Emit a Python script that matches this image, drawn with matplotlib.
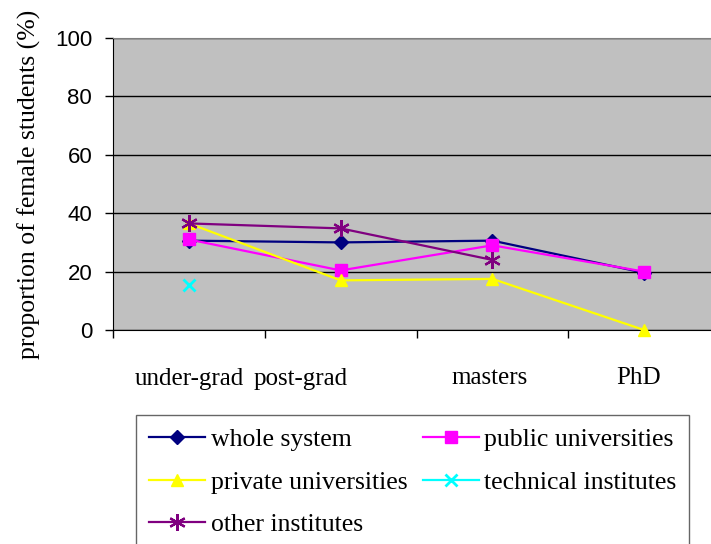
import numpy as np
from matplotlib import pyplot as plt
from matplotlib import transforms


levels = ["under-grad", "post-grad", "masters", "PhD"]

whole_system = [30.6, 30.0, 30.6, 19.6]
public_universities = [31.0, 20.4, 29.0, 20.0]
private_universities = [36.5, 17.0, 17.5, 0.0]
technical_institutes = [15.5, np.nan, np.nan, np.nan]
other_institutes = [36.5, 34.8, 24.0, np.nan]

y_ticks = [0, 20, 40, 60, 80, 100]


def draw_series(ax, x):
	lines = {}
	lines["whole"], = ax.plot(x, whole_system, color="#000080", lw=1.6, marker="D",
		ms=7, label="whole system")
	lines["public"], = ax.plot(x, public_universities, color="#FF00FF", lw=1.6,
		marker="s", ms=8, label="public universities")
	lines["private"], = ax.plot(x, private_universities, color="#FFFF00", lw=1.6,
		marker="^", ms=9, label="private universities")
	lines["technical"], = ax.plot(x, technical_institutes, color="#00FFFF", lw=1.6,
		marker="x", ms=8, mew=2, label="technical institutes")
	lines["other"], = ax.plot(x, other_institutes, color="#800080", lw=1.6,
		marker=(6, 2, 0), ms=12, mew=1.6, label="other institutes")
	# markers at 0 should not be cut by the axis
	for ln in lines.values():
		ln.set_clip_on(False)
		ln.set_zorder(3)
	return lines


def main():
	fig = plt.figure(figsize=(7.11, 5.44), dpi=100)
	ax = fig.add_axes([113 / 711, 1 - 330 / 544, 607 / 711, 292 / 544])
	ax.set_facecolor("#C0C0C0")

	x = np.arange(len(levels)) + 0.5
	lines = draw_series(ax, x)

	ax.set_xlim(0, len(levels))
	ax.set_ylim(0, 100)

	# horizontal gridlines only
	ax.set_yticks(y_ticks)
	ax.yaxis.grid(True, color="black", lw=1)
	ax.set_axisbelow(True)
	ax.tick_params(axis="y", length=6, width=1, pad=9, labelsize=16)
	for lab in ax.get_yticklabels():
		lab.set_fontfamily("Liberation Sans")

	# category ticks sit between the categories, labels at the centers
	ax.set_xticks(np.arange(len(levels) + 1))
	ax.set_xticklabels([])
	ax.tick_params(axis="x", which="major", length=6, width=1)
	ax.set_xticks(x, minor=True)
	ax.set_xticklabels(levels, minor=True, fontfamily="Liberation Serif", fontsize=18)
	ax.tick_params(axis="x", which="minor", length=0, pad=27)
	shifts = [0, -40, -3, -6]
	for lab, dx in zip(ax.xaxis.get_minorticklabels(), shifts):
		lab.set_transform(lab.get_transform()
			+ transforms.ScaledTranslation(dx / 100, 0, fig.dpi_scale_trans))

	ax.spines["left"].set_color("black")
	ax.spines["bottom"].set_color("black")
	ax.spines["top"].set_color("#808080")
	ax.spines["right"].set_visible(False)

	ax.set_ylabel("proportion of female students (%)", fontfamily="Liberation Serif",
		fontsize=18.5)
	ax.yaxis.set_label_coords(-0.119, 0.5)

	# two columns, filled row by row
	order = ["whole", "private", "other", "public", "technical"]
	handles = [lines[k] for k in order]
	fig.legend(handles, [h.get_label() for h in handles], loc="upper left",
		bbox_to_anchor=(136 / 711, 1 - 415 / 544), ncol=2,
		prop={"family": "Liberation Serif", "size": 18.5}, frameon=True,
		fancybox=False, edgecolor="#404040", borderaxespad=0, borderpad=0.5,
		handlelength=2.2, handletextpad=0.2, columnspacing=0.6, labelspacing=0.77)

	fig.savefig("out.png", dpi=100, facecolor="white")


if __name__ == "__main__":
	main()
